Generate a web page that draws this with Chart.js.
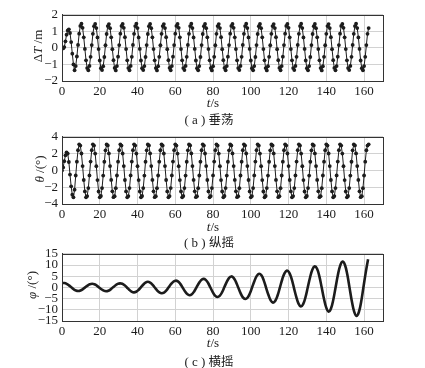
<!DOCTYPE html>
<html>
<head>
<meta charset="utf-8">
<script src="https://cdn.jsdelivr.net/npm/chart.js@4/dist/chart.umd.min.js"></script>
<style>
  html, body { margin: 0; padding: 0; background: #fff; }
  #wrap { position: relative; width: 425px; height: 368px; overflow: hidden;
          font-family: "Liberation Serif", "DejaVu Serif", serif; color: #222; }
  canvas { position: absolute; left: 0; }
  .lbl { position: absolute; font-size: 13px; white-space: nowrap; transform: translate(-50%, -50%); }
  .ylbl { position: absolute; font-size: 13px; white-space: nowrap; transform: translate(-50%, -50%) rotate(-90deg); }
  .cap { font-size: 13px; }
  .cap b { font-weight: normal; font-family: "Noto Sans CJK SC", sans-serif; font-size: 12.5px; }
</style>
</head>
<body>
<div id="wrap">
  <canvas id="heaveChart" width="425" height="100" style="top:3px"></canvas>
  <canvas id="pitchChart" width="425" height="101" style="top:125px"></canvas>
  <canvas id="rollChart" width="425" height="101" style="top:242px"></canvas>

  <div class="ylbl" style="left:38px;top:46px">Δ<i>T</i> /m</div>
  <div class="lbl" style="left:213px;top:103px"><i>t</i>/s</div>
  <div class="lbl cap" style="left:209px;top:118px">( a ) <b>垂荡</b></div>

  <div class="ylbl" style="left:40px;top:169px"><i>θ</i> /(°)</div>
  <div class="lbl" style="left:213px;top:227px"><i>t</i>/s</div>
  <div class="lbl cap" style="left:209px;top:241px">( b ) <b>纵摇</b></div>

  <div class="ylbl" style="left:32px;top:285px"><i>φ</i> /(°)</div>
  <div class="lbl" style="left:213px;top:343px"><i>t</i>/s</div>
  <div class="lbl cap" style="left:209px;top:360px">( c ) <b>横摇</b></div>
</div>

<script>
// sampling interval of the records (s)
const motionStep = 0.606;
const rollStep = 1.228;

// heave ΔT (m)
const heave = [
  0.00, -0.03, 0.05, 0.40, 0.80, 1.05, 1.12, 0.90, 0.35, -0.35, -1.00, -1.35,
  -1.10, -0.52, 0.18, 0.86, 1.33, 1.46, 1.21, 0.64, -0.06, -0.75, -1.22, -1.35,
  -1.09, -0.54, 0.17, 0.85, 1.31, 1.45, 1.20, 0.63, -0.07, -0.76, -1.23, -1.34,
  -1.11, -0.55, 0.16, 0.84, 1.32, 1.44, 1.19, 0.64, -0.08, -0.74, -1.21, -1.36,
  -1.10, -0.53, 0.17, 0.86, 1.33, 1.45, 1.21, 0.65, -0.07, -0.75, -1.22, -1.35,
  -1.09, -0.54, 0.18, 0.85, 1.32, 1.46, 1.20, 0.63, -0.06, -0.76, -1.23, -1.34,
  -1.10, -0.55, 0.17, 0.84, 1.31, 1.45, 1.19, 0.64, -0.07, -0.75, -1.22, -1.36,
  -1.11, -0.54, 0.16, 0.85, 1.32, 1.44, 1.20, 0.65, -0.08, -0.74, -1.21, -1.35,
  -1.10, -0.53, 0.17, 0.86, 1.33, 1.45, 1.21, 0.64, -0.07, -0.75, -1.22, -1.34,
  -1.09, -0.54, 0.18, 0.85, 1.32, 1.46, 1.20, 0.63, -0.06, -0.76, -1.23, -1.35,
  -1.10, -0.55, 0.17, 0.84, 1.31, 1.45, 1.19, 0.64, -0.07, -0.75, -1.22, -1.36,
  -1.11, -0.54, 0.16, 0.85, 1.32, 1.44, 1.20, 0.65, -0.08, -0.74, -1.21, -1.35,
  -1.10, -0.53, 0.17, 0.86, 1.33, 1.45, 1.21, 0.64, -0.07, -0.75, -1.22, -1.34,
  -1.09, -0.54, 0.18, 0.85, 1.32, 1.46, 1.20, 0.63, -0.06, -0.76, -1.23, -1.35,
  -1.10, -0.55, 0.17, 0.84, 1.31, 1.45, 1.19, 0.64, -0.07, -0.75, -1.22, -1.36,
  -1.11, -0.54, 0.16, 0.85, 1.32, 1.44, 1.20, 0.65, -0.08, -0.74, -1.21, -1.35,
  -1.10, -0.53, 0.17, 0.86, 1.33, 1.45, 1.21, 0.64, -0.07, -0.75, -1.22, -1.34,
  -1.09, -0.54, 0.18, 0.85, 1.32, 1.46, 1.20, 0.63, -0.06, -0.76, -1.23, -1.35,
  -1.10, -0.55, 0.17, 0.84, 1.31, 1.45, 1.19, 0.64, -0.07, -0.75, -1.22, -1.36,
  -1.11, -0.54, 0.16, 0.85, 1.32, 1.44, 1.20, 0.65, -0.08, -0.74, -1.21, -1.35,
  -1.10, -0.53, 0.17, 0.86, 1.33, 1.45, 1.21, 0.64, -0.07, -0.75, -1.22, -1.34,
  -1.09, -0.54, 0.18, 0.85, 1.32, 1.46, 1.20, 0.63, -0.06, -0.76, -1.23, -1.35,
  -1.10, -0.54, 0.17, 0.85, 1.20
];

// pitch θ (°)
const pitch = [
  0.00, 0.35, 1.10, 1.80, 2.15, 2.00, 1.00, -0.50, -1.90, -2.90, -3.20, -2.30,
  -0.61, 1.04, 2.40, 3.10, 2.96, 2.01, 0.51, -1.14, -2.50, -3.20, -3.06, -2.11,
  -0.60, 1.05, 2.41, 3.11, 2.95, 2.00, 0.50, -1.15, -2.51, -3.21, -3.05, -2.10,
  -0.62, 1.03, 2.39, 3.09, 2.97, 2.02, 0.52, -1.13, -2.49, -3.19, -3.07, -2.12,
  -0.61, 1.04, 2.40, 3.10, 2.96, 2.01, 0.51, -1.14, -2.50, -3.20, -3.06, -2.11,
  -0.60, 1.05, 2.41, 3.11, 2.95, 2.00, 0.50, -1.15, -2.51, -3.21, -3.05, -2.10,
  -0.62, 1.03, 2.39, 3.09, 2.97, 2.02, 0.52, -1.13, -2.49, -3.19, -3.07, -2.12,
  -0.61, 1.04, 2.40, 3.10, 2.96, 2.01, 0.51, -1.14, -2.50, -3.20, -3.06, -2.11,
  -0.60, 1.05, 2.41, 3.11, 2.95, 2.00, 0.50, -1.15, -2.51, -3.21, -3.05, -2.10,
  -0.62, 1.03, 2.39, 3.09, 2.97, 2.02, 0.52, -1.13, -2.49, -3.19, -3.07, -2.12,
  -0.61, 1.04, 2.40, 3.10, 2.96, 2.01, 0.51, -1.14, -2.50, -3.20, -3.06, -2.11,
  -0.60, 1.05, 2.41, 3.11, 2.95, 2.00, 0.50, -1.15, -2.51, -3.21, -3.05, -2.10,
  -0.62, 1.03, 2.39, 3.09, 2.97, 2.02, 0.52, -1.13, -2.49, -3.19, -3.07, -2.12,
  -0.61, 1.04, 2.40, 3.10, 2.96, 2.01, 0.51, -1.14, -2.50, -3.20, -3.06, -2.11,
  -0.60, 1.05, 2.41, 3.11, 2.95, 2.00, 0.50, -1.15, -2.51, -3.21, -3.05, -2.10,
  -0.62, 1.03, 2.39, 3.09, 2.97, 2.02, 0.52, -1.13, -2.49, -3.19, -3.07, -2.12,
  -0.61, 1.04, 2.40, 3.10, 2.96, 2.01, 0.51, -1.14, -2.50, -3.20, -3.06, -2.11,
  -0.60, 1.05, 2.41, 3.11, 2.95, 2.00, 0.50, -1.15, -2.51, -3.21, -3.05, -2.10,
  -0.62, 1.03, 2.39, 3.09, 2.97, 2.02, 0.52, -1.13, -2.49, -3.19, -3.07, -2.12,
  -0.61, 1.04, 2.40, 3.10, 2.96, 2.01, 0.51, -1.14, -2.50, -3.20, -3.06, -2.11,
  -0.60, 1.05, 2.41, 3.11, 2.95, 2.00, 0.50, -1.15, -2.51, -3.21, -3.05, -2.10,
  -0.62, 1.03, 2.39, 3.09, 2.97, 2.02, 0.52, -1.13, -2.49, -3.19, -3.07, -2.12,
  -0.61, 1.04, 2.40, 2.95, 3.10
];

// roll φ (°)
const roll = [
  2.00, 1.95, 1.60, 0.90, 0.05, -0.80, -1.40, -1.60, -1.39, -0.80, 0.02, 0.80,
  1.39, 1.60, 1.40, 0.82, -0.03, -0.84, -1.46, -1.70, -1.48, -0.87, 0.04, 0.88,
  1.55, 1.80, 1.62, 0.97, -0.02, -1.05, -1.85, -2.20, -1.95, -1.15, 0.03, 1.20,
  2.12, 2.50, 2.18, 1.26, -0.04, -1.28, -2.24, -2.60, -2.31, -1.37, 0.05, 1.45,
  2.54, 3.00, 2.67, 1.58, -0.05, -1.70, -2.96, -3.50, -3.07, -1.79, 0.04, 1.85,
  3.25, 3.80, 3.36, 1.96, -0.06, -2.10, -3.66, -4.30, -3.81, -2.25, 0.05, 2.35,
  4.16, 4.90, 4.28, 2.48, -0.05, -2.55, -4.46, -5.20, -4.63, -2.75, 0.06, 2.90,
  5.15, 6.10, 5.38, 3.14, -0.07, -3.30, -5.79, -6.80, -5.99, -3.52, 0.06, 3.65,
  6.39, 7.50, 6.64, 3.92, -0.08, -4.10, -7.22, -8.50, -7.49, -4.40, 0.07, 4.55,
  8.00, 9.40, 8.34, 4.93, -0.08, -5.20, -9.15, -10.80, -9.45, -5.50, 0.08, 5.63,
  9.86, 11.50, 10.13, 5.95, -0.09, -6.20, -10.82, -12.70, -11.10, -6.50, 0.10, 6.70,
  12.60
];

// axis ticks
const tTicks = [0, 20, 40, 60, 80, 100, 120, 140, 160];
const tMax = 170;
const heaveTicks = [-2, -1, 0, 1, 2];
const pitchTicks = [-4, -2, 0, 2, 4];
const rollTicks = [-15, -10, -5, 0, 5, 10, 15];

const tickFont = { family: '"Liberation Serif", "DejaVu Serif", serif', size: 13 };
const ink = '#1c1c1c';

const frame = {
  id: 'frame',
  afterDraw(chart) {
    const { ctx, chartArea: a } = chart;
    ctx.save();
    ctx.strokeStyle = '#333';
    ctx.lineWidth = 1;
    ctx.strokeRect(Math.round(a.left) + 0.5, Math.round(a.top) + 0.5,
      Math.round(a.right - a.left), Math.round(a.bottom - a.top));
    ctx.restore();
  }
};

function toPoints(values, step) {
  return values.map((y, i) => ({ x: i * step, y }));
}

function makePanel(id, values, step, yTicks, style) {
  new Chart(document.getElementById(id), {
    type: 'line',
    data: {
      datasets: [{
        data: toPoints(values, step),
        borderColor: ink,
        backgroundColor: ink,
        borderWidth: style.lineWidth,
        pointRadius: style.pointRadius,
        pointBorderWidth: 0,
        tension: style.tension,
        fill: false
      }]
    },
    options: {
      responsive: false,
      animation: false,
      devicePixelRatio: 1,
      layout: { padding: { left: 0, right: 42, top: 8, bottom: 0 } },
      plugins: { legend: { display: false }, tooltip: { enabled: false } },
      scales: {
        x: {
          type: 'linear',
          min: 0,
          max: tMax,
          afterBuildTicks: s => { s.ticks = tTicks.map(v => ({ value: v })); },
          afterFit: s => { s.height = 22; },
          ticks: { font: tickFont, color: ink, padding: 3, maxRotation: 0, autoSkip: false },
          grid: { color: '#d2d2d2', drawTicks: false },
          border: { color: '#333' }
        },
        y: {
          min: yTicks[0],
          max: yTicks[yTicks.length - 1],
          afterBuildTicks: s => { s.ticks = yTicks.map(v => ({ value: v })); },
          afterFit: s => { s.width = 62; },
          ticks: {
            font: tickFont, color: ink, padding: 4, autoSkip: false,
            callback: v => String(v).replace('-', '\u2212')
          },
          grid: { color: '#d2d2d2', drawTicks: false },
          border: { color: '#333' }
        }
      }
    },
    plugins: [frame]
  });
}

makePanel('heaveChart', heave, motionStep, heaveTicks, { lineWidth: 1, pointRadius: 1.9, tension: 0 });
makePanel('pitchChart', pitch, motionStep, pitchTicks, { lineWidth: 1, pointRadius: 1.9, tension: 0 });
makePanel('rollChart', roll, rollStep, rollTicks, { lineWidth: 2.6, pointRadius: 0, tension: 0.4 });
</script>
</body>
</html>
